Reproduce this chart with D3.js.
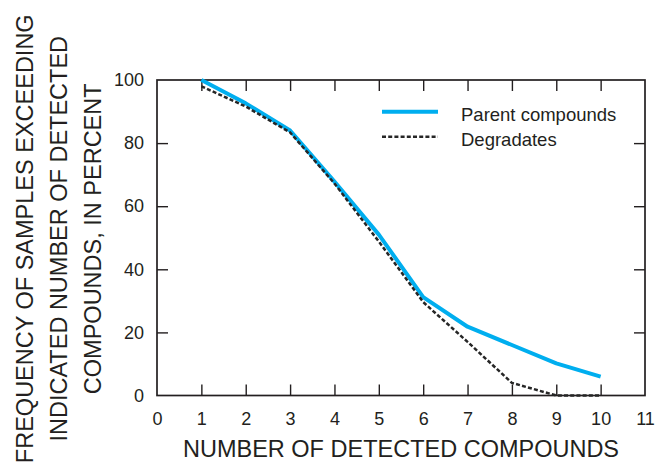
<!DOCTYPE html>
<html>
<head>
<meta charset="utf-8">
<script src="https://cdn.jsdelivr.net/npm/d3@7"></script>
<style>
  html, body { margin: 0; padding: 0; background: #fff; }
  svg text { font-family: "Liberation Sans", Arial, Helvetica, sans-serif; fill: #231f20; }
</style>
</head>
<body>
<svg id="chart" width="656" height="469"></svg>
<script>
// Number of detected compounds (x) and percent of samples exceeding it
const compoundCounts = [1, 2, 3, 4, 5, 6, 7, 8, 9, 10];
const parentPercent = [100, 92.6, 84, 67.8, 51, 31.2, 21.8, 16, 10.2, 6];
const degradatePercent = [98, 91.6, 83.4, 67.2, 48.8, 29.6, 17, 4, 0, 0];

const xTickValues = [0, 1, 2, 3, 4, 5, 6, 7, 8, 9, 10, 11];
const yTickValues = [0, 20, 40, 60, 80, 100];

const seriesNames = ["Parent compounds", "Degradates"];
const xTitle = "NUMBER OF DETECTED COMPOUNDS";
const yTitleLines = [
  "FREQUENCY OF SAMPLES EXCEEDING",
  "INDICATED NUMBER OF DETECTED",
  "COMPOUNDS, IN PERCENT"
];

const ink = "#231f20";
const blue = "#00aeef";
const dashInk = "#262626";

const svg = d3.select("#chart");
const plot = { left: 157, right: 645, top: 80, bottom: 395.5 };

const x = d3.scaleLinear().domain([0, 11]).range([plot.left, plot.right]);
const y = d3.scaleLinear().domain([0, 100]).range([plot.bottom, plot.top]);

const tickLen = 11;
const innerX = xTickValues.filter(v => v > 0 && v < 11);
const innerY = yTickValues.filter(v => v > 0 && v < 100);

// Bottom axis: labels for every tick, marks pointing up into the plot
const bottomAxis = svg.append("g")
  .attr("transform", `translate(0,${plot.bottom})`)
  .call(d3.axisBottom(x).tickValues(xTickValues).tickFormat(d3.format("d"))
    .tickSize(-tickLen).tickPadding(17));
bottomAxis.select(".domain").remove();
bottomAxis.selectAll(".tick line")
  .attr("stroke", ink).attr("stroke-width", 1.4)
  .attr("opacity", d => (d > 0 && d < 11) ? 1 : 0);
bottomAxis.selectAll(".tick text")
  .attr("font-size", 18).attr("fill", ink).attr("dy", "0.71em");

// Top axis: marks only
const topAxis = svg.append("g")
  .attr("transform", `translate(0,${plot.top})`)
  .call(d3.axisTop(x).tickValues(innerX).tickFormat("").tickSize(-tickLen));
topAxis.select(".domain").remove();
topAxis.selectAll(".tick line").attr("stroke", ink).attr("stroke-width", 1.4);

// Left axis: labels and inward marks
const leftAxis = svg.append("g")
  .attr("transform", `translate(${plot.left},0)`)
  .call(d3.axisLeft(y).tickValues(yTickValues).tickFormat(d3.format("d"))
    .tickSize(-tickLen).tickPadding(13));
leftAxis.select(".domain").remove();
leftAxis.selectAll(".tick line")
  .attr("stroke", ink).attr("stroke-width", 1.4)
  .attr("opacity", d => (d > 0 && d < 100) ? 1 : 0);
leftAxis.selectAll(".tick text")
  .attr("font-size", 18).attr("fill", ink);

// Right axis: marks only
const rightAxis = svg.append("g")
  .attr("transform", `translate(${plot.right},0)`)
  .call(d3.axisRight(y).tickValues(innerY).tickFormat("").tickSize(-tickLen));
rightAxis.select(".domain").remove();
rightAxis.selectAll(".tick line").attr("stroke", ink).attr("stroke-width", 1.4);

// Plot frame
svg.append("rect")
  .attr("x", plot.left).attr("y", plot.top)
  .attr("width", plot.right - plot.left).attr("height", plot.bottom - plot.top)
  .attr("fill", "none").attr("stroke", ink).attr("stroke-width", 1.7);

// Series lines
const line = d3.line().x(d => x(d[0])).y(d => y(d[1]));
const parentPts = compoundCounts.map((c, i) => [c, parentPercent[i]]);
const degradatePts = compoundCounts.map((c, i) => [c, degradatePercent[i]]);

svg.append("path").datum(parentPts)
  .attr("d", line).attr("fill", "none")
  .attr("stroke", blue).attr("stroke-width", 4)
  .attr("stroke-linejoin", "round");

svg.append("path").datum(degradatePts)
  .attr("d", line).attr("fill", "none")
  .attr("stroke", dashInk).attr("stroke-width", 2.5)
  .attr("stroke-dasharray", "4,2.2");

// Legend
const legend = svg.append("g");
const legendRows = [
  { name: seriesNames[0], y: 111.7, stroke: blue, width: 4, dash: null },
  { name: seriesNames[1], y: 136.7, stroke: dashInk, width: 2.5, dash: "4,2.2" }
];
legendRows.forEach(r => {
  legend.append("line")
    .attr("x1", 382).attr("x2", 438).attr("y1", r.y).attr("y2", r.y)
    .attr("stroke", r.stroke).attr("stroke-width", r.width)
    .attr("stroke-dasharray", r.dash);
  legend.append("text")
    .attr("x", 461).attr("y", r.y + 9.5)
    .attr("font-size", 18.5).text(r.name);
});

// Axis titles
svg.append("text")
  .attr("x", (plot.left + plot.right) / 2).attr("y", 457)
  .attr("text-anchor", "middle").attr("font-size", 23.5)
  .text(xTitle);

const yTitleBaselines = [33, 67, 101];
const yCenter = (plot.top + plot.bottom) / 2 + 1;
yTitleLines.forEach((t, i) => {
  svg.append("text")
    .attr("transform", `translate(${yTitleBaselines[i]},${yCenter}) rotate(-90)`)
    .attr("text-anchor", "middle").attr("font-size", 23.5)
    .text(t);
});
</script>
</body>
</html>
